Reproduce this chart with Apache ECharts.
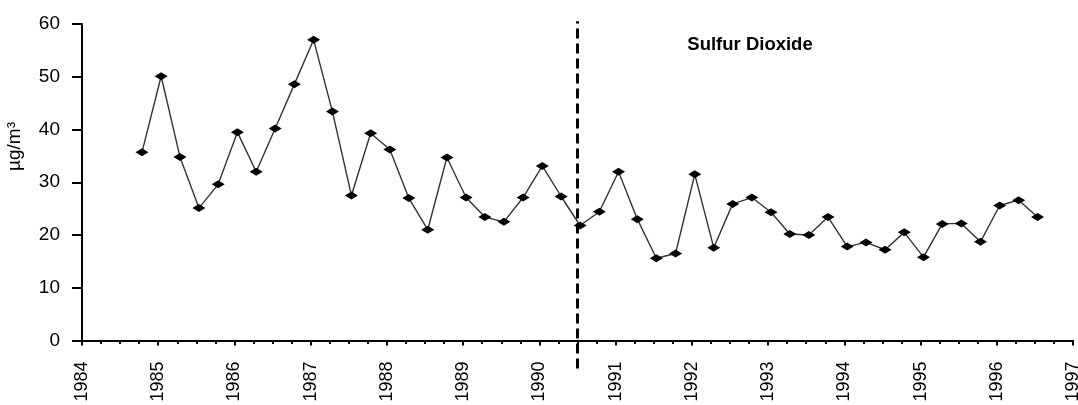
<!DOCTYPE html>
<html>
<head>
<meta charset="utf-8">
<script src="https://cdn.jsdelivr.net/npm/echarts@6/dist/echarts.min.js"></script>
<style>html,body{margin:0;padding:0;background:#fff}#c{width:1078px;height:405px}</style>
</head>
<body>
<div id="c"></div>
<script>
// Sample dates (quarterly, mid first month of each quarter)
var sampleDates = [
  '1984-10-15',
  '1985-01-15','1985-04-15','1985-07-15','1985-10-15',
  '1986-01-15','1986-04-15','1986-07-15','1986-10-15',
  '1987-01-15','1987-04-15','1987-07-15','1987-10-15',
  '1988-01-15','1988-04-15','1988-07-15','1988-10-15',
  '1989-01-15','1989-04-15','1989-07-15','1989-10-15',
  '1990-01-15','1990-04-15','1990-07-15','1990-10-15',
  '1991-01-15','1991-04-15','1991-07-15','1991-10-15',
  '1992-01-15','1992-04-15','1992-07-15','1992-10-15',
  '1993-01-15','1993-04-15','1993-07-15','1993-10-15',
  '1994-01-15','1994-04-15','1994-07-15','1994-10-15',
  '1995-01-15','1995-04-15','1995-07-15','1995-10-15',
  '1996-01-15','1996-04-15','1996-07-15'
];
// Sulfur dioxide concentration (µg/m³)
var so2Values = [
  35.7,
  50.1, 34.8, 25.1, 29.6,
  39.5, 32.0, 40.2, 48.6,
  57.0, 43.4, 27.5, 39.3,
  36.2, 27.0, 21.0, 34.7,
  27.1, 23.4, 22.5, 27.1,
  33.1, 27.3, 21.8, 24.4,
  32.0, 23.0, 15.6, 16.5,
  31.5, 17.6, 25.9, 27.1,
  24.3, 20.2, 20.0, 23.4,
  17.8, 18.6, 17.2, 20.5,
  15.8, 22.1, 22.2, 18.7,
  25.6, 26.6, 23.4
];
// Reference (dashed) line: date and vertical extent
var breakYear = 1990.5;
var breakExtent = [-5.3, 60.5];
var titleText = 'Sulfur Dioxide';
var yAxisTitle = 'µg/m³';
var xRange = [1984, 1997];
var yRange = [0, 60];

function decimalYear(s) {
  var p = s.split('-');
  var y = +p[0];
  var start = Date.UTC(y, 0, 1), end = Date.UTC(y + 1, 0, 1);
  var d = Date.UTC(y, +p[1] - 1, +p[2]);
  return y + (d - start) / (end - start);
}

var seriesData = sampleDates.map(function (d, i) { return [decimalYear(d), so2Values[i]]; });

var FONT = "'Liberation Sans', Arial, Helvetica, sans-serif";
var chart = echarts.init(document.getElementById('c'), null, { renderer: 'canvas' });
chart.setOption({
  animation: false,
  backgroundColor: '#fff',
  textStyle: { fontFamily: FONT },
  title: {
    text: titleText,
    left: 745, top: 30, textAlign: 'center',
    textStyle: { fontFamily: FONT, fontSize: 18.5, fontWeight: 'bold', color: '#000' }
  },
  grid: { left: 82, right: 5, top: 24, bottom: 64.5, containLabel: false, outerBoundsMode: 'none' },
  graphic: [{
    type: 'text', left: 5, top: 122, rotation: Math.PI / 2,
    style: { text: yAxisTitle, font: '19px ' + FONT, fill: '#000' }
  }],
  xAxis: {
    type: 'value', min: xRange[0], max: xRange[1], interval: 1,
    axisLine: { show: true, onZero: false, lineStyle: { color: '#000', width: 2 } },
    axisTick: { show: true, length: 5, lineStyle: { color: '#000', width: 2 } },
    minorTick: { show: true, splitNumber: 4, length: 3.5, lineStyle: { color: '#000', width: 2 } },
    splitLine: { show: false },
    axisLabel: { rotate: 90, margin: 21, fontSize: 18, color: '#000', fontFamily: FONT,
      formatter: function (v) { return String(Math.round(v)); } }
  },
  yAxis: {
    type: 'value', min: yRange[0], max: yRange[1], interval: 10,
    axisLine: { show: true, lineStyle: { color: '#000', width: 2 } },
    axisTick: { show: true, length: 10, lineStyle: { color: '#000', width: 2 } },
    splitLine: { show: false },
    axisLabel: { margin: 22, fontSize: 19, color: '#000', fontFamily: FONT }
  },
  series: [
    {
      type: 'line', data: seriesData,
      symbol: 'diamond', symbolSize: [13, 8],
      itemStyle: { color: '#000' },
      lineStyle: { color: '#333', width: 1.4 },
      z: 3
    },
    {
      type: 'line', data: [[breakYear, breakExtent[0]], [breakYear, breakExtent[1]]],
      symbol: 'none', clip: false, silent: true,
      lineStyle: { color: '#000', width: 3, type: [10, 5] },
      z: 2
    }
  ]
});
</script>
</body>
</html>
